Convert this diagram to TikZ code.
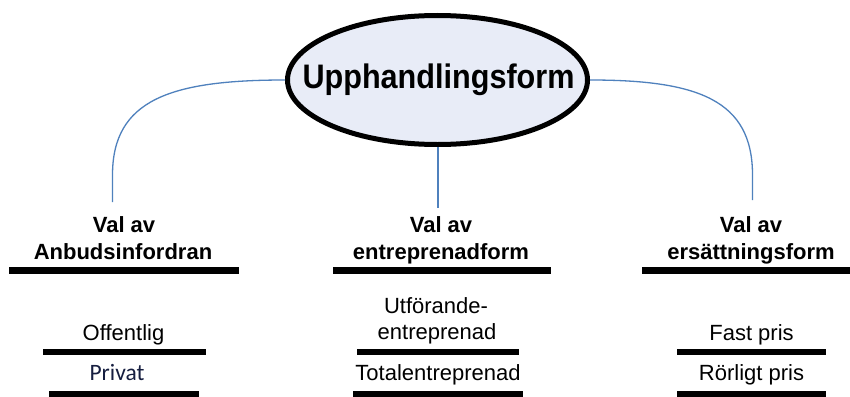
\documentclass[tikz,border=0pt]{standalone}
\usepackage{fontspec}
\setmainfont{Liberation Sans}
\newfontfamily\calib{Carlito}
\usetikzlibrary{shapes.geometric}
\definecolor{ellfill}{RGB}{232,236,247}
\definecolor{conn}{RGB}{79,129,189}
\definecolor{navytext}{RGB}{22,30,64}
\tikzset{
  hub/.style={ellipse, draw=black, line width=5pt, fill=ellfill, minimum width=300pt, minimum height=129pt, inner sep=0pt},
  hubtext/.style={inner sep=0pt, font=\fontsize{34}{40}\selectfont\bfseries},
  hdr/.style={anchor=base, inner sep=0pt, font=\fontsize{22}{26}\selectfont\bfseries},
  item/.style={anchor=base, inner sep=0pt, font=\fontsize{22}{26}\selectfont},
  bar/.style={line width=6.5pt, black},
  link/.style={conn, line width=1.3pt}
}
\begin{document}
\begin{tikzpicture}[x=1pt,y=-1pt]
\useasboundingbox (0,0) rectangle (850,396);
\clip (0,0) rectangle (850,396);
\fill[white] (0,0) rectangle (850,396);

% central hub
\node[hub] (u) at (437.5,80) {};
\node[hubtext] (ut) at (438.5,80) {\scalebox{0.9}[1]{Upphandlingsform}};

% connector end points
\coordinate (cA) at (112.5,202);
\coordinate (cB) at (437.5,208);
\coordinate (cC) at (752.5,200);

\draw[link] (u.west) .. controls (170,80) and (112.5,100) .. (112.5,175) -- (cA);
\draw[link] (u.south) ++(0.5,0) coordinate (us) (us) -- (cB -| us);
\draw[link] (u.east) .. controls (698,80) and (752.5,100) .. (752.5,175) -- (cC);

% headers
\node[hdr] (hA1) at (124,232) {Val av};
\node[hdr] (hA2) at (123,259) {Anbudsinfordran};
\node[hdr] (hB1) at (441,232) {Val av};
\node[hdr] (hB2) at (441,259) {entreprenadform};
\node[hdr] (hC1) at (751,232) {Val av};
\node[hdr] (hC2) at (751,259) {ersättningsform};

\draw[bar] (9,270.5) -- (239,270.5);
\draw[bar] (333,270.5) -- (551,270.5);
\draw[bar] (642,270.5) -- (860,270.5);

% items left
\node[item] (iA1) at (123.5,340) {Offentlig};
\node[item, font=\calib\fontsize{23.5}{28}\selectfont, text=navytext] (iA2) at (117,380) {Privat};
\draw[bar] (43,352) -- (206,352);
\draw[bar] (49,394.5) -- (199,394.5);

% items middle
\node[item] (iB1a) at (436,313) {Utförande-};
\node[item] (iB1b) at (437,339) {entreprenad};
\node[item] (iB2) at (438,380) {Totalentreprenad};
\draw[bar] (357,352) -- (519,352);
\draw[bar] (353,394.5) -- (523,394.5);

% items right
\node[item] (iC1) at (751.5,340) {Fast pris};
\node[item] (iC2) at (751.5,380) {Rörligt pris};
\draw[bar] (677,352) -- (826,352);
\draw[bar] (677,394.5) -- (826,394.5);
\end{tikzpicture}
\end{document}
